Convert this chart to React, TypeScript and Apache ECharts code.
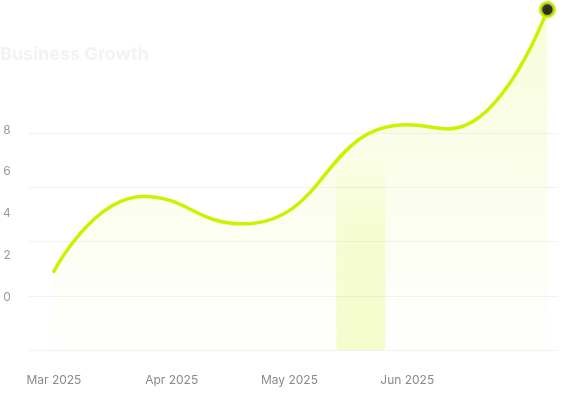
import React, { useEffect, useRef } from "react";
import * as echarts from "echarts";

// month index positions (0 = Mar 2025) and values
const xLabels = ["Mar 2025", "Apr 2025", "May 2025", "Jun 2025"];
const xValues = [0, 0.76, 1.6, 3.0, 3.35, 4.19];
const growth = [2.9, 5.66, 4.65, 8.3, 8.15, 12.55];
const yTicks = [0, 2, 4, 6, 8];
const highlightX = [2.606];
const highlightValue = [7.0];

const LIME = "#c8f400";

export default function App() {
  const ref = useRef<HTMLDivElement>(null);
  useEffect(() => {
    if (!ref.current) return;
    const chart = echarts.init(ref.current, null, { renderer: "svg" });
    const lineData = xValues.map((x, i) => [x, growth[i]]);
    const last = lineData[lineData.length - 1];
    chart.setOption({
      animation: false,
      textStyle: { fontFamily: "Inter" },
      title: {
        text: "Business Growth",
        left: 0,
        top: 44,
        padding: 0,
        textStyle: { color: "#f3f3f3", fontSize: 18, fontWeight: 700, fontFamily: "Inter" },
      },
      grid: [
        { left: 28, right: 4, top: 133, bottom: 45 },
        { left: 14, width: 10, top: 129, bottom: 99 },
      ],
      xAxis: [
        {
          type: "value",
          gridIndex: 0,
          min: -0.22,
          max: 4.28,
          splitNumber: 4,
          axisLine: { show: false },
          axisTick: { show: false },
          splitLine: { show: false },
          axisLabel: {
            color: "#8a8a8a",
            fontSize: 12,
            margin: 23,
            fontFamily: "Inter",
            formatter: (v: number) => {
              const i = Math.round(v);
              return Math.abs(v - i) < 1e-6 ? xLabels[i] ?? "" : "";
            },
          },
        },
        { type: "value", gridIndex: 1, show: false, min: 0, max: 1 },
      ],
      yAxis: [
        {
          type: "value",
          gridIndex: 0,
          min: yTicks[0],
          max: yTicks[yTicks.length - 1],
          interval: 2,
          axisLine: { show: false },
          axisTick: { show: false },
          axisLabel: { show: false },
          splitLine: { lineStyle: { color: "#f2f2f2", width: 1 } },
        },
        {
          type: "value",
          gridIndex: 1,
          min: yTicks[0],
          max: yTicks[yTicks.length - 1],
          interval: 2,
          axisLine: { show: false },
          axisTick: { show: false },
          splitLine: { show: false },
          axisLabel: { color: "#9a9a9a", fontSize: 12, margin: 4, fontFamily: "Inter" },
        },
      ],
      series: [
        {
          type: "bar",
          xAxisIndex: 0,
          yAxisIndex: 0,
          data: highlightX.map((x, i) => [x, highlightValue[i]]),
          barWidth: 49,
          itemStyle: {
            color: new echarts.graphic.LinearGradient(0, 0, 0, 1, [
              { offset: 0, color: "rgba(204,242,0,0.02)" },
              { offset: 0.35, color: "rgba(204,242,0,0.13)" },
              { offset: 1, color: "rgba(204,242,0,0.19)" },
            ]),
            borderRadius: 4,
          },
          z: 1,
        },
        {
          type: "line",
          xAxisIndex: 0,
          yAxisIndex: 0,
          data: lineData,
          smooth: 0.5,
          symbol: "none",
          clip: false,
          lineStyle: { color: LIME, width: 3.5, cap: "round" },
          areaStyle: {
            color: new echarts.graphic.LinearGradient(0, 0, 0, 1, [
              { offset: 0, color: "rgba(200,244,0,0.2)" },
              { offset: 1, color: "rgba(200,244,0,0.01)" },
            ]),
          },
          z: 2,
        },
        {
          type: "scatter",
          xAxisIndex: 0,
          yAxisIndex: 0,
          data: [last],
          clip: false,
          symbolSize: 14,
          itemStyle: { color: "#000", borderColor: LIME, borderWidth: 3.5 },
          z: 3,
        },
      ],
    });
    return () => chart.dispose();
  }, []);
  return (
    <div
      ref={ref}
      style={{ position: "fixed", left: 0, top: 0, width: 562, height: 395 }}
    />
  );
}
